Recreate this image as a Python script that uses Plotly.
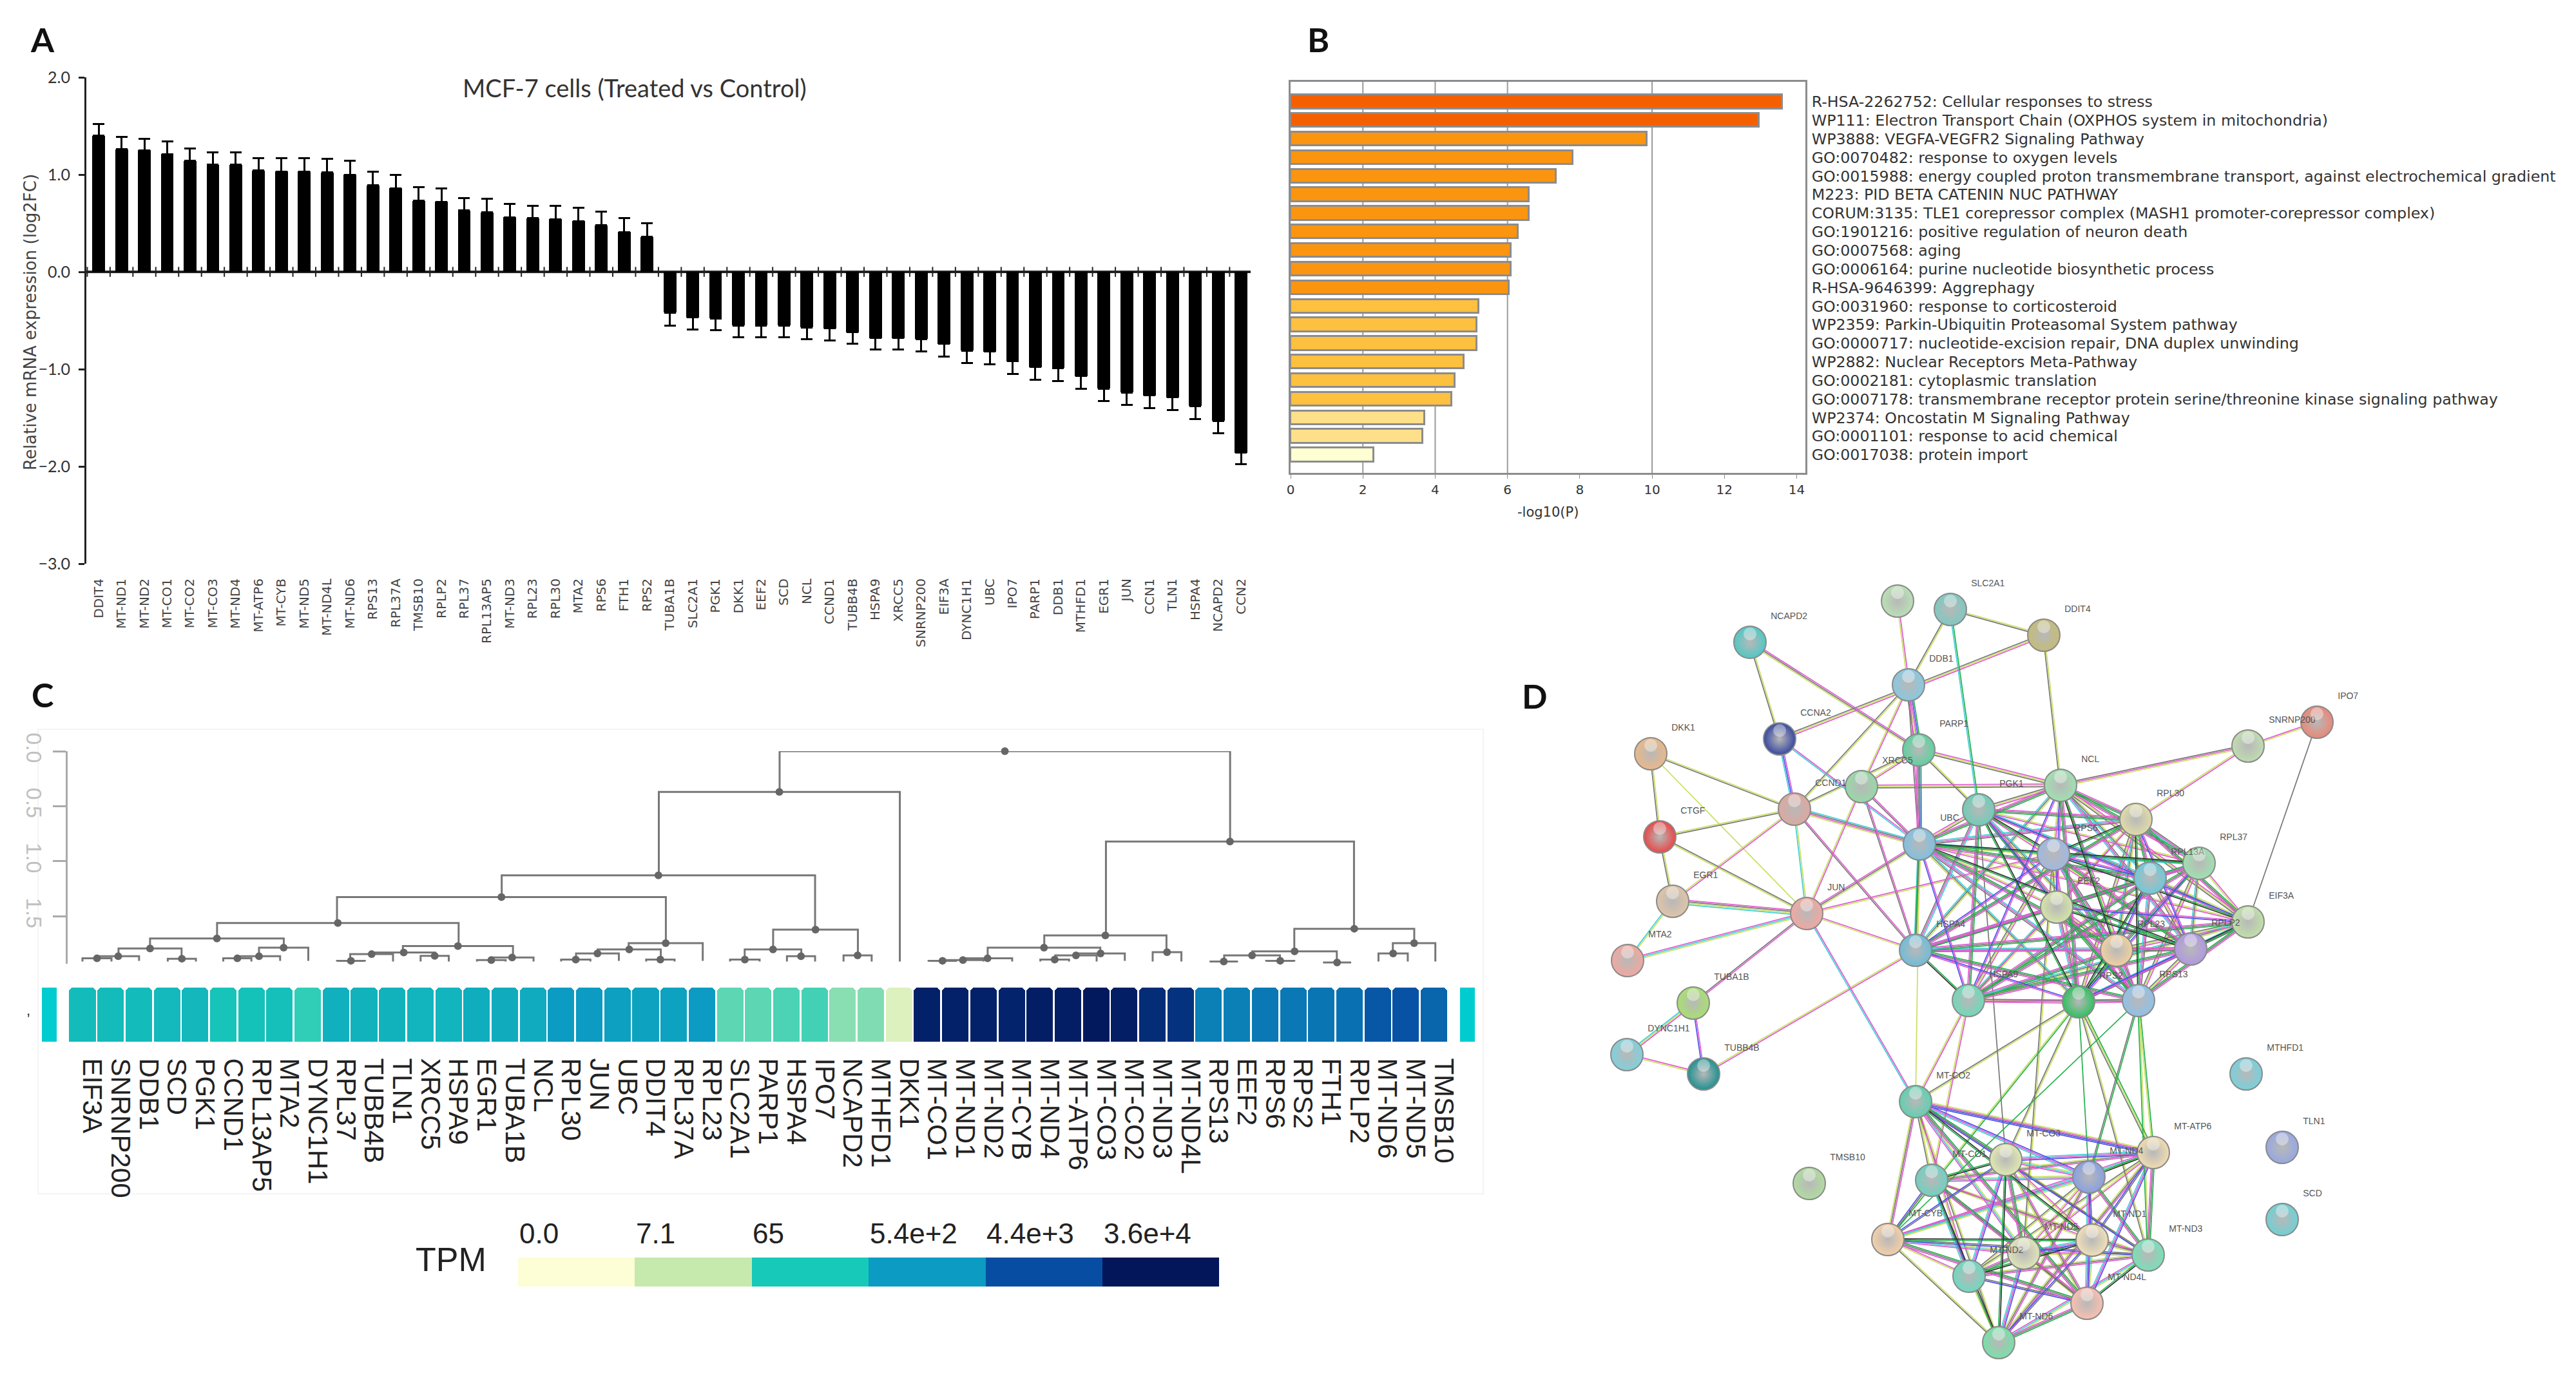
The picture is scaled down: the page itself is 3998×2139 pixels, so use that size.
import itertools
import math
import plotly.graph_objects as go

W, H = 3998, 2139

# ---------- Panel A ----------
fc_genes = ["DDIT4","MT-ND1","MT-ND2","MT-CO1","MT-CO2","MT-CO3","MT-ND4","MT-ATP6","MT-CYB","MT-ND5","MT-ND4L","MT-ND6","RPS13","RPL37A","TMSB10","RPLP2","RPL37","RPL13AP5","MT-ND3","RPL23","RPL30","MTA2","RPS6","FTH1","RPS2",
            "TUBA1B","SLC2A1","PGK1","DKK1","EEF2","SCD","NCL","CCND1","TUBB4B","HSPA9","XRCC5","SNRNP200","EIF3A","DYNC1H1","UBC","IPO7","PARP1","DDB1","MTHFD1","EGR1","JUN","CCN1","TLN1","HSPA4","NCAPD2","CCN2"]
fc_values = [1.40,1.26,1.25,1.21,1.14,1.10,1.10,1.04,1.03,1.03,1.02,1.00,.89,.86,.73,.72,.63,.61,.56,.55,.54,.52,.48,.41,.36,
             -.42,-.47,-.48,-.55,-.55,-.55,-.57,-.58,-.62,-.68,-.68,-.69,-.74,-.81,-.82,-.92,-.98,-.99,-1.07,-1.20,-1.24,-1.27,-1.29,-1.38,-1.53,-1.86]
fc_tips = [1.52,1.39,1.37,1.34,1.27,1.23,1.23,1.17,1.17,1.17,1.16,1.14,1.03,1.0,.87,.86,.76,.75,.70,.68,.68,.66,.62,.55,.50,
           -.55,-.59,-.60,-.67,-.67,-.67,-.69,-.705,-.74,-.80,-.80,-.82,-.87,-.94,-.95,-1.05,-1.11,-1.12,-1.20,-1.33,-1.37,-1.40,-1.42,-1.51,-1.66,-1.98]

# ---------- Panel B ----------
enrich_terms = ["R-HSA-2262752: Cellular responses to stress","WP111: Electron Transport Chain (OXPHOS system in mitochondria)","WP3888: VEGFA-VEGFR2 Signaling Pathway","GO:0070482: response to oxygen levels",
 "GO:0015988: energy coupled proton transmembrane transport, against electrochemical gradient","M223: PID BETA CATENIN NUC PATHWAY","CORUM:3135: TLE1 corepressor complex (MASH1 promoter-corepressor complex)",
 "GO:1901216: positive regulation of neuron death","GO:0007568: aging","GO:0006164: purine nucleotide biosynthetic process","R-HSA-9646399: Aggrephagy","GO:0031960: response to corticosteroid",
 "WP2359: Parkin-Ubiquitin Proteasomal System pathway","GO:0000717: nucleotide-excision repair, DNA duplex unwinding","WP2882: Nuclear Receptors Meta-Pathway","GO:0002181: cytoplasmic translation",
 "GO:0007178: transmembrane receptor protein serine/threonine kinase signaling pathway","WP2374: Oncostatin M Signaling Pathway","GO:0001101: response to acid chemical","GO:0017038: protein import"]
enrich_values = [13.6,12.95,9.85,7.8,7.35,6.6,6.6,6.3,6.1,6.1,6.05,5.2,5.15,5.15,4.8,4.55,4.45,3.7,3.65,2.3]
enrich_colors = ["#f46000"]*2 + ["#fb9510"]*9 + ["#fec03f"]*6 + ["#fee08b"]*2 + ["#ffffd4"]

# ---------- Panel C ----------
heat_genes = ["EIF3A","SNRNP200","DDB1","SCD","PGK1","CCND1","RPL13AP5","MTA2","DYNC1H1","RPL37","TUBB4B","TLN1","XRCC5","HSPA9","EGR1","TUBA1B","NCL","RPL30","JUN","UBC","DDIT4","RPL37A","RPL23",
              "SLC2A1","PARP1","HSPA4","IPO7","NCAPD2","MTHFD1","DKK1","MT-CO1","MT-ND1","MT-ND2","MT-CYB","MT-ND4","MT-ATP6","MT-CO3","MT-CO2","MT-ND3","MT-ND4L","RPS13","EEF2","RPS6","RPS2","FTH1","RPLP2","MT-ND6","MT-ND5","TMSB10"]
heat_levels = [2.3,2.3,2.3,2.35,2.4,2.1,2.15,2.2,1.85,2.55,2.5,2.5,2.45,2.45,2.6,2.62,2.65,3.0,3.0,2.9,2.85,2.85,3.0,
               1.6,1.6,1.7,1.75,1.35,1.4,0.6,4.8,4.8,4.8,4.75,4.85,4.85,4.95,4.85,4.6,4.5,3.35,3.35,3.45,3.45,3.5,3.55,3.9,3.95,3.7]
tpm_labels = ["0.0","7.1","65","5.4e+2","4.4e+3","3.6e+4"]
tpm_colors = ["#fdfdd6","#c6e9ae","#17c9b8","#0c9bc2","#074ea3","#021659"]
# merges: left x, right x, join height, left child height, right child height
dendro_merges = [
(24.76,40.76,0,.37,.82),(20.47,29.03,.37,1.127,1.91),(14.89,26.02,1.127,1.325,1.62),(9.04,20.72,1.325,1.56,1.743),
(4.78,13.36,1.56,1.70,1.769),(2.40,7.15,1.70,1.791,1.784),(1.28,3.52,1.791,1.862,1.884),(0.53,2.01,1.862,1.881,1.903),
(0,1.03,1.881,1.91,1.91),(3.03,4.03,1.884,1.91,1.91),(6.27,8.02,1.784,1.862,1.903),(5.52,7.02,1.862,1.881,1.903),(5,6,1.881,1.91,1.91),
(11.38,15.29,1.769,1.828,1.873),(10.3,12.52,1.828,1.843,1.858),(9.51,11.03,1.843,1.903,1.91),(9.04,10.03,1.903,1.91,1.91),(12.01,13.01,1.858,1.91,1.91),
(14.5,16.02,1.873,1.896,1.91),(14.01,15.03,1.896,1.91,1.91),(19.4,22.03,1.743,1.80,1.903),(18.3,20.54,1.80,1.836,1.892),(17.53,19.05,1.836,1.892,1.903),
(17.0,18.04,1.892,1.91,1.91),(20.02,21.03,1.892,1.91,1.91),(24.53,27.54,1.62,1.80,1.854),(23.52,25.53,1.80,1.892,1.862),(23.0,24.05,1.892,1.91,1.91),
(25.02,26.02,1.862,1.91,1.91),(27.03,28.03,1.854,1.91,1.91),(36.35,45.16,.82,1.672,1.612),(34.16,38.5,1.672,1.784,1.825),(32.15,36.15,1.784,1.881,1.836),
(31.27,33.02,1.881,1.896,1.91),(30.54,32.0,1.896,1.903,1.91),(30.05,31.04,1.903,1.91,1.91),(35.3,37.02,1.836,1.854,1.903),(34.55,36.02,1.854,1.892,1.91),
(34.02,35.04,1.892,1.91,1.91),(38.01,39.03,1.825,1.91,1.91),(43.04,47.3,1.612,1.817,1.743),(41.55,44.55,1.817,1.854,1.918),(40.55,42.53,1.854,1.91,1.903),
(40.03,41.04,1.91,1.91,1.91),(42.04,43.04,1.903,1.91,1.91),(44.06,45.06,1.918,1.918,1.918),(46.54,48.05,1.743,1.836,1.91),(46.03,47.07,1.836,1.91,1.91)]

# ---------- Panel D ----------
net_nodes = {
"FTH1":(2945,933,"#b9e0b4"),"SLC2A1":(3027,946,"#80c8c0"),"DDIT4":(3172,986,"#c4bc78"),"NCAPD2":(2716,997,"#50c8c4"),"DDB1":(2962,1063,"#88c8e0"),
"CCNA2":(2762,1147,"#3848a0"),"IPO7":(3596,1121,"#e88878"),"DKK1":(2562,1170,"#eab888"),"PARP1":(2978,1164,"#60d0a0"),"SNRNP200":(3489,1158,"#c0dcb0"),
"XRCC5":(2889,1221,"#98d8a8"),"NCL":(3198,1219,"#a0e0b0"),"CCND1":(2785,1256,"#dca8a0"),"PGK1":(3071,1257,"#70ccb8"),"RPL30":(3315,1272,"#e0dca8"),
"CTGF":(2576,1299,"#e84848"),"UBC":(2979,1310,"#80c0e0"),"RPS6":(3187,1326,"#a0b8e0"),"RPL37":(3413,1340,"#a0e0b0"),"RPL13A":(3337,1363,"#70c8d8"),
"EEF2":(3192,1408,"#d4e4a8"),"EGR1":(2596,1399,"#e0c4a8"),"JUN":(2804,1418,"#f0a8a0"),"EIF3A":(3489,1431,"#c0e0a8"),"RPL23":(3285,1475,"#f0d0a0"),
"RPLP2":(3400,1473,"#b098e0"),"HSPA4":(2973,1475,"#70bcd8"),"MTA2":(2526,1491,"#f0a8a0"),"TUBA1B":(2628,1557,"#a8e070"),"HSPA9":(3055,1553,"#70d8b8"),
"RPS2":(3226,1555,"#30c060"),"RPS13":(3319,1553,"#90c0e8"),"DYNC1H1":(2525,1637,"#80d0dc"),"TUBB4B":(2644,1667,"#209090"),"MTHFD1":(3486,1667,"#78d0dc"),
"MT-CO2":(2973,1710,"#60d0b0"),"MT-ATP6":(3342,1789,"#f0dcb0"),"TLN1":(3542,1781,"#98a8e0"),"MT-CO3":(3113,1800,"#e0e8b0"),"MT-CO1":(2998,1832,"#70d0c0"),
"MT-ND4":(3242,1827,"#88a0e0"),"TMSB10":(2808,1837,"#b0dca0"),"SCD":(3542,1893,"#70d0d4"),"MT-CYB":(2930,1924,"#f4d0a8"),"MT-ND1":(3247,1925,"#f0e0b8"),
"MT-ND5":(3141,1945,"#e0e4b8"),"MT-ND3":(3334,1948,"#78e0b8"),"MT-ND2":(3056,1981,"#70d8c0"),"MT-ND4L":(3239,2023,"#f8c0b0"),"MT-ND6":(3102,2084,"#78e0a8")}
net_edges = [("SLC2A1","DDIT4","yk"),("FTH1","DDB1","my"),("SLC2A1","DDB1","yk"),("SLC2A1","PGK1","gc"),("DDIT4","CCNA2","myk"),("DDIT4","NCL","yk"),
("NCAPD2","CCNA2","yk"),("NCAPD2","PARP1","mky"),("PARP1","NCL","myk"),("DDB1","PARP1","gbmyk"),("DDB1","XRCC5","my"),("DDB1","CCND1","yk"),("DDB1","UBC","mk"),
("PARP1","UBC","gbkm"),("PARP1","XRCC5","my"),("PARP1","PGK1","yk"),("XRCC5","NCL","myk"),("XRCC5","UBC","mk"),("XRCC5","HSPA4","mk"),("XRCC5","JUN","my"),
("PARP1","CCND1","yk"),("CCNA2","CCND1","mbc"),("CCNA2","UBC","mc"),("DKK1","CCND1","yk"),("DKK1","CTGF","yk"),("DKK1","JUN","y"),("CTGF","CCND1","yk"),
("CTGF","EGR1","yk"),("CTGF","JUN","ky"),("CCND1","UBC","ckmy"),("CCND1","JUN","yc"),("CCND1","EGR1","my"),("CCND1","HSPA4","mk"),("EGR1","JUN","mkyc"),
("EGR1","MTA2","yc"),("MTA2","JUN","mcy"),("JUN","UBC","mky"),("JUN","HSPA4","my"),("JUN","TUBA1B","mk"),("JUN","MT-CO2","mc"),("JUN","RPS6","my"),
("NCL","SNRNP200","kmy"),("SNRNP200","IPO7","my"),("SNRNP200","RPL30","my"),("IPO7","EIF3A","k"),("UBC","HSPA4","yg"),("HSPA4","TUBB4B","my"),
("TUBA1B","DYNC1H1","myc"),("TUBA1B","TUBB4B","mb"),("DYNC1H1","TUBB4B","my"),("UBC","MT-CO2","y"),("HSPA9","MT-CO1","my"),("HSPA9","MT-CO2","my"),
("RPS2","MT-CO2","yk"),("RPS2","MT-ATP6","gyk"),("RPS13","MT-ATP6","gy"),("RPS13","MT-ND4","gk"),("RPS2","MT-ND4","g"),("RPS2","MT-CO3","yk"),
("RPS2","MT-ND3","yk"),("RPS13","MT-CYB","g"),("PGK1","MT-CO3","k"),("RPS6","MT-ND5","yk"),("RPS2","MT-CYB","gy"),("RPS13","MT-ND3","yg"),("MT-CO2","MT-ATP6","yybb")]
ribosome_group = ["NCL","RPL30","RPS6","RPL37","RPL13A","EEF2","EIF3A","RPL23","RPLP2","RPS2","RPS13","UBC","HSPA4","HSPA9","PGK1"]
mito_group = ["MT-CO2","MT-ATP6","MT-CO3","MT-CO1","MT-ND4","MT-CYB","MT-ND1","MT-ND5","MT-ND3","MT-ND2","MT-ND4L","MT-ND6"]
ribosome_codes = ["mkg","my","gkm","ykc","mb","myk","gd","kmc"]
mito_codes = ["my","gkm","yk","bmc","mky","dg","ycm","kb"]
edge_palette = {"m":"#e05ad0","y":"#c8e060","k":"#777777","c":"#40d0d8","g":"#22b14c","b":"#5050ee","d":"#333333"}

def xd(a, b): return [a/W, b/W]
def yd(top, bot): return [1-bot/H, 1-top/H]

fig = go.Figure()

# --- A
fig.add_trace(go.Bar(x=list(range(51)), y=fc_values, width=0.56, marker=dict(color="black", line_width=0),
    error_y=dict(type="data", symmetric=False,
                 array=[max(t-v, 0) for t, v in zip(fc_tips, fc_values)],
                 arrayminus=[max(v-t, 0) for t, v in zip(fc_tips, fc_values)],
                 color="black", thickness=3, width=9),
    xaxis="x", yaxis="y"))
fig.add_trace(go.Scatter(x=[i-0.5 for i in range(52)], y=[0]*52, mode="markers",
    marker=dict(symbol="line-ns", size=11, line=dict(color="#222", width=2)), xaxis="x", yaxis="y"))

# --- B
fig.add_trace(go.Bar(x=enrich_values, y=list(range(20)), orientation="h", width=0.74,
    marker=dict(color=enrich_colors, line=dict(color="#8c8c8c", width=3)), xaxis="x2", yaxis="y2"))

# --- C dendrogram
dx, dy, mx, my = [], [], [], []
for xl, xr, top, yl, yr in dendro_merges:
    dx += [xl, xl, xr, xr, None]
    dy += [yl, top, top, yr, None]
    mx.append((xl+xr)/2); my.append(top)
fig.add_trace(go.Scatter(x=dx, y=dy, mode="lines", line=dict(color="#777", width=3), cliponaxis=False, xaxis="x3", yaxis="y3"))
fig.add_trace(go.Scatter(x=mx, y=my, mode="markers", marker=dict(color="#666", size=12), cliponaxis=False, xaxis="x3", yaxis="y3"))

# --- C cells
fig.add_trace(go.Bar(x=list(range(49)), y=[1]*49, width=0.94,
    marker=dict(color=heat_levels, cmin=0, cmax=5, cornerradius=7, line_width=0,
                colorscale=[[i/5, c] for i, c in enumerate(tpm_colors)]),
    xaxis="x4", yaxis="y4"))
fig.add_trace(go.Bar(x=[-1.178, 49.18], y=[1, 1], width=0.53, marker=dict(color="#00ccd0", line_width=0), xaxis="x4", yaxis="y4"))

# --- C colour key
fig.add_trace(go.Bar(x=[i+0.5 for i in range(6)], y=[1]*6, width=1, marker=dict(color=tpm_colors, line_width=0), xaxis="x5", yaxis="y5"))

# --- D edges
segs = {c: ([], []) for c in edge_palette}
def add_edge(a, b, code):
    x0, y0, _ = net_nodes[a]; x1, y1, _ = net_nodes[b]
    L = math.hypot(x1-x0, y1-y0)
    nx, ny = -(y1-y0)/L, (x1-x0)/L
    for i, c in enumerate(code):
        o = (i-(len(code)-1)/2)*2.2
        segs[c][0].extend([x0+nx*o, x1+nx*o, None])
        segs[c][1].extend([y0+ny*o, y1+ny*o, None])
for a, b, code in net_edges:
    add_edge(a, b, code)
for i, (a, b) in enumerate(itertools.combinations(ribosome_group, 2)):
    add_edge(a, b, ribosome_codes[i % len(ribosome_codes)])
for i, (a, b) in enumerate(itertools.combinations(mito_group, 2)):
    add_edge(a, b, mito_codes[i % len(mito_codes)])
for c in ["y", "k", "c", "m", "g", "b", "d"]:
    fig.add_trace(go.Scatter(x=segs[c][0], y=segs[c][1], mode="lines", line=dict(color=edge_palette[c], width=1.7), xaxis="x6", yaxis="y6"))
names = list(net_nodes)
nx_, ny_, nc_ = zip(*[net_nodes[n] for n in names])
fig.add_trace(go.Scatter(x=nx_, y=ny_, mode="markers+text", text=names, textposition="top right",
    textfont=dict(family="Liberation Sans", size=14, color="#555"),
    marker=dict(color=list(nc_), size=50, line=dict(color="#8a8a8a", width=2),
                gradient=dict(type="radial", color="#b8b8b8")),
    xaxis="x6", yaxis="y6"))
fig.add_trace(go.Scatter(x=nx_, y=[v-13 for v in ny_], mode="markers",
    marker=dict(color="rgba(255,255,255,0.38)", size=20, line_width=0), xaxis="x6", yaxis="y6"))

def ann(x, y, text, size, color="#222", family="Liberation Sans", xanchor="center", angle=0, **kw):
    return dict(x=x/W, y=1-y/H, xref="paper", yref="paper", text=text, showarrow=False, xanchor=xanchor, yanchor="middle",
                textangle=angle, font=dict(family=family, size=size, color=color), **kw)

annotations = [
    ann(66, 61, "<b>A</b>", 52, "#111", "Lato"), ann(2046, 61, "<b>B</b>", 52, "#111", "Lato"),
    ann(66, 1078, "<b>C</b>", 52, "#111", "Lato"), ann(2382, 1080, "<b>D</b>", 52, "#111", "Lato"),
    ann(985, 136, "MCF-7 cells (Treated vs Control)", 38, "#333", "Lato"),
    ann(47, 500, "Relative mRNA expression (log2FC)", 26, "#444", "DejaVu Sans", angle=-90),
    ann(2402, 795, "-log10(P)", 21, "#333", "DejaVu Sans"),
    ann(700, 1955, "TPM", 52, "#222"),
    ann(44, 1568, ",", 22, "#222"),
]
for i, lab in enumerate(tpm_labels):
    annotations.append(dict(x=i, y=1, xref="x5", yref="y5 domain", yshift=38, text=lab, showarrow=False, xanchor="left", yanchor="middle",
                            font=dict(family="Liberation Sans", size=44, color="#222")))

shapes = [dict(type="line", xref="x2", yref="y2 domain", x0=v, x1=v, y0=0, y1=1, line=dict(color="#9a9a9a", width=2), layer="below") for v in [2, 4, 6, 10]]
shapes.append(dict(type="rect", xref="paper", yref="paper", x0=59/W, x1=2302/W, y0=1-1853/H, y1=1-1132/H, line=dict(color="#f4f4f4", width=2), layer="below"))

hidden = dict(visible=False)
A_L, A_R = -0.54, 50.42
fig.update_layout(
    width=W, height=H, margin=dict(l=0, r=0, t=0, b=0), paper_bgcolor="white", plot_bgcolor="white",
    showlegend=False, barmode="overlay", bargap=0, hovermode=False, annotations=annotations, shapes=shapes,
    font=dict(family="Liberation Sans"),
    xaxis=dict(domain=xd(134, 1941), range=[A_L, A_R], tickmode="array", tickvals=list(range(51)), ticktext=fc_genes, tickangle=-90,
               tickfont=dict(family="DejaVu Sans", size=20, color="#444"), ticks="outside", ticklen=14, tickcolor="rgba(0,0,0,0)", showgrid=False, zeroline=False, showline=False),
    yaxis=dict(domain=yd(120, 875), range=[-3, 2], dtick=1, tickformat=".1f", tickfont=dict(family="Lato", size=25, color="#333"), ticks="outside", ticklen=9, tickwidth=3, tickcolor="#222", ticklabelstandoff=8,
               showgrid=False, zeroline=True, zerolinecolor="#222", zerolinewidth=4, showline=True, linecolor="#222", linewidth=3),
    xaxis2=dict(domain=xd(2003, 2802), anchor="y2", range=[0, 14.24], dtick=2, tickfont=dict(family="DejaVu Sans", size=20, color="#333"), ticks="outside", ticklen=6, tickcolor="#888",
                showgrid=False, zeroline=False, showline=True, mirror=True, linecolor="#8c8c8c", linewidth=3),
    yaxis2=dict(domain=yd(127, 734), anchor="x2", side="right", range=[19.97, -1.07], tickmode="array", tickvals=list(range(20)), ticktext=enrich_terms,
                tickfont=dict(family="DejaVu Sans", size=23.7, color="#333"), ticks="outside", ticklen=2, tickcolor="rgba(0,0,0,0)", showgrid=False, zeroline=False, showline=True, mirror=True, linecolor="#8c8c8c", linewidth=3),
    xaxis3=dict(domain=xd(59, 2302), anchor="y3", range=[-1.579, 49.75], **hidden),
    yaxis3=dict(domain=yd(1166, 1496), anchor="free", position=103/W, range=[1.93, 0], tickmode="array", tickvals=[0, .5, 1, 1.5], ticktext=["0.0", "0.5", "1.0", "1.5"], tickangle=90,
                tickfont=dict(family="Liberation Sans", size=34, color="#c0c0c0"), ticks="outside", ticklen=20, tickwidth=3, tickcolor="#aaa", showgrid=False, zeroline=False, showline=True, linecolor="#aaa", linewidth=3),
    xaxis4=dict(domain=xd(59, 2302), anchor="y4", range=[-1.579, 49.75], tickmode="array", tickvals=list(range(49)), ticktext=heat_genes, tickangle=90, ticklabelshift=15,
                tickfont=dict(family="Liberation Sans", size=42, color="#222"), ticks="outside", ticklen=16, tickcolor="rgba(0,0,0,0)", showgrid=False, zeroline=False, showline=False),
    yaxis4=dict(domain=yd(1533, 1617), anchor="x4", range=[0, 1], **hidden),
    xaxis5=dict(domain=xd(803.5, 1892), anchor="y5", range=[0, 6], **hidden),
    yaxis5=dict(domain=yd(1952, 1997), anchor="x5", range=[0, 1], **hidden),
    xaxis6=dict(domain=xd(2450, 3700), anchor="y6", range=[2450, 3700], **hidden),
    yaxis6=dict(domain=yd(900, 2120), anchor="x6", range=[2120, 900], **hidden),
)
fig.update_xaxes(automargin=False)
fig.update_yaxes(automargin=False)
fig.write_html("out.html", config={"displayModeBar": False}, post_script="document.body.style.margin='0';")
